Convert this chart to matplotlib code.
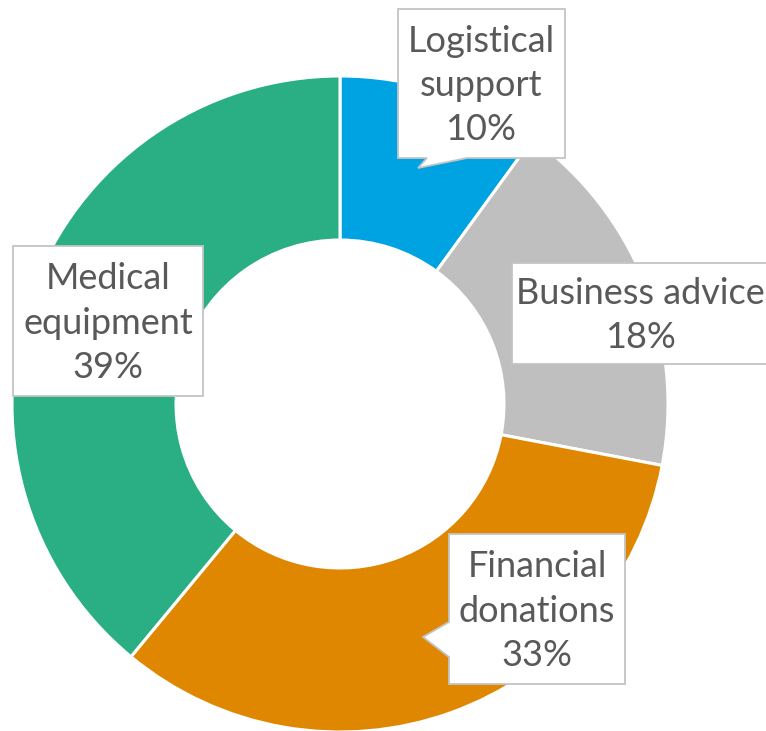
import matplotlib
matplotlib.use("Agg")
import matplotlib.pyplot as plt
from matplotlib.patches import Polygon

categories = ["Logistical support", "Business advice", "Financial donations", "Medical equipment"]
label_lines = ["Logistical\nsupport", "Business advice", "Financial\ndonations", "Medical\nequipment"]
values = [10, 18, 33, 39]
colors = ["#00A3E1", "#BFBFBF", "#DF8700", "#2AAE84"]

W, H = 766, 731
fig = plt.figure(figsize=(W / 100, H / 100), dpi=100)
ax = fig.add_axes([0, 0, 1, 1])

cx, cy, R = 340, H - 404, 328
ax.pie(values, colors=colors, startangle=90, counterclock=False,
       center=(cx, cy), radius=R, frame=True,
       wedgeprops=dict(width=R * 0.5, edgecolor="white", linewidth=2.2))
ax.set_xlim(0, W)
ax.set_ylim(0, H)
ax.set_aspect("equal")
ax.axis("off")

def Y(y):
    return H - y

# callout boxes in pixel coordinates (x0, y0, x1, y1), text centre x, optional tail
boxes = [
    dict(box=(398, 9, 565, 158), tx=481, tail=[(467, 158), (418, 168), (427, 158)], side="bottom"),
    dict(box=(512, 263, 790, 364), tx=640, tail=None),
    dict(box=(449, 534, 625, 684), tx=537, tail=[(449, 622), (423, 637), (449, 657)], side="left"),
    dict(box=(13, 246, 203, 396), tx=108, tail=None),
]

text_color = "#595959"
edge_color = "#C4C4C4"

for i, b in enumerate(boxes):
    x0, y0, x1, y1 = b["box"]
    if b["tail"] is None:
        pts = [(x0, y0), (x1, y0), (x1, y1), (x0, y1)]
    elif b["side"] == "bottom":
        t = b["tail"]
        pts = [(x0, y0), (x1, y0), (x1, y1), t[0], t[1], t[2], (x0, y1)]
    else:
        t = b["tail"]
        pts = [(x0, y0), (x1, y0), (x1, y1), (x0, y1), t[2], t[1], t[0]]
    poly = Polygon([(px, Y(py)) for px, py in pts], closed=True,
                   facecolor="white", edgecolor=edge_color, linewidth=1.3, zorder=5)
    ax.add_patch(poly)
    txt = f"{label_lines[i]}\n{values[i]}%"
    ax.text(b["tx"], Y((y0 + y1) / 2 + 2), txt, ha="center", va="center",
            fontsize=26, color=text_color, family=["Lato", "DejaVu Sans"],
            linespacing=1.42, zorder=6)

fig.savefig("out.png", dpi=100)
